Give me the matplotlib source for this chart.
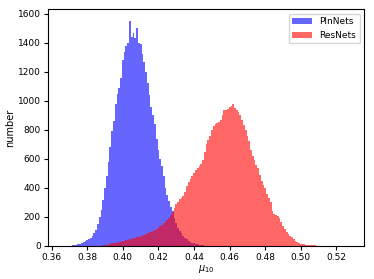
import numpy as np
import matplotlib
matplotlib.use('Agg')
import matplotlib.pyplot as plt

# bin centres (step 0.001) and heights
pln_start = 0.370
pln_counts = [1, 2, 3, 4, 6, 9, 13, 19, 24, 32,
              40, 45, 55, 70, 90, 110, 150, 200, 250, 315,
              400, 480, 580, 680, 790, 860, 980, 1050, 1090, 1160,
              1280, 1340, 1380, 1400, 1554, 1440, 1470, 1430, 1500, 1400,
              1390, 1320, 1270, 1200, 1120, 1040, 960, 900, 840, 740,
              660, 600, 550, 480, 400, 350, 310, 270, 240, 190,
              155, 125, 100, 85, 70, 55, 45, 35, 28, 22,
              17, 13, 10, 7, 5, 3, 2, 1]

res_start = 0.388
res_counts = [2, 4, 6, 8, 10, 14, 16, 18, 20, 23,
              26, 28, 32, 35, 38, 42, 45, 48, 52, 56,
              60, 62, 65, 70, 75, 80, 86, 92, 98, 105,
              112, 118, 125, 135, 145, 155, 165, 180, 195, 215,
              235, 260, 285, 300, 320, 330, 345, 370, 410, 440,
              460, 480, 500, 520, 535, 550, 565, 590, 650, 705,
              730, 760, 800, 825, 840, 850, 855, 870, 900, 935,
              940, 945, 955, 965, 975, 950, 935, 920, 900, 870,
              830, 800, 760, 720, 660, 620, 590, 560, 535, 490,
              450, 420, 400, 360, 330, 300, 240, 222, 212, 205,
              190, 165, 140, 115, 95, 80, 70, 58, 48, 35,
              25, 18, 14, 11, 9, 7, 6, 5, 4, 3,
              3, 2, 2, 2, 1, 1, 1, 0, 0, 0,
              0, 0, 1, 0, 0, 0, 0, 0, 0, 1]

step = 0.001
pln_x = pln_start + step * np.arange(len(pln_counts))
res_x = res_start + step * np.arange(len(res_counts))

plt.rcParams['font.size'] = 7
plt.rcParams['xtick.major.size'] = 3
plt.rcParams['ytick.major.size'] = 3

fig = plt.figure(figsize=(3.74, 2.79), dpi=100)
ax = fig.add_axes([0.1275, 0.119, 0.8465, 0.848])

ax.bar(pln_x, pln_counts, width=step, color='blue', alpha=0.6, linewidth=0, label='PlnNets')
ax.bar(res_x, res_counts, width=step, color='red', alpha=0.6, linewidth=0, label='ResNets')

ax.set_xlim(0.3578, 0.5356)
ax.set_ylim(0, 1632)
ax.set_xticks([0.36, 0.38, 0.40, 0.42, 0.44, 0.46, 0.48, 0.50, 0.52])
ax.set_yticks([0, 200, 400, 600, 800, 1000, 1200, 1400, 1600])
ax.tick_params(labelsize=6.5, pad=2)
ax.set_xlabel('$\\mu_{10}$', labelpad=1)
ax.set_ylabel('number', labelpad=2)
ax.legend(loc='upper right', fontsize=6.5, handlelength=2.2)

fig.savefig('out.png', dpi=100)
